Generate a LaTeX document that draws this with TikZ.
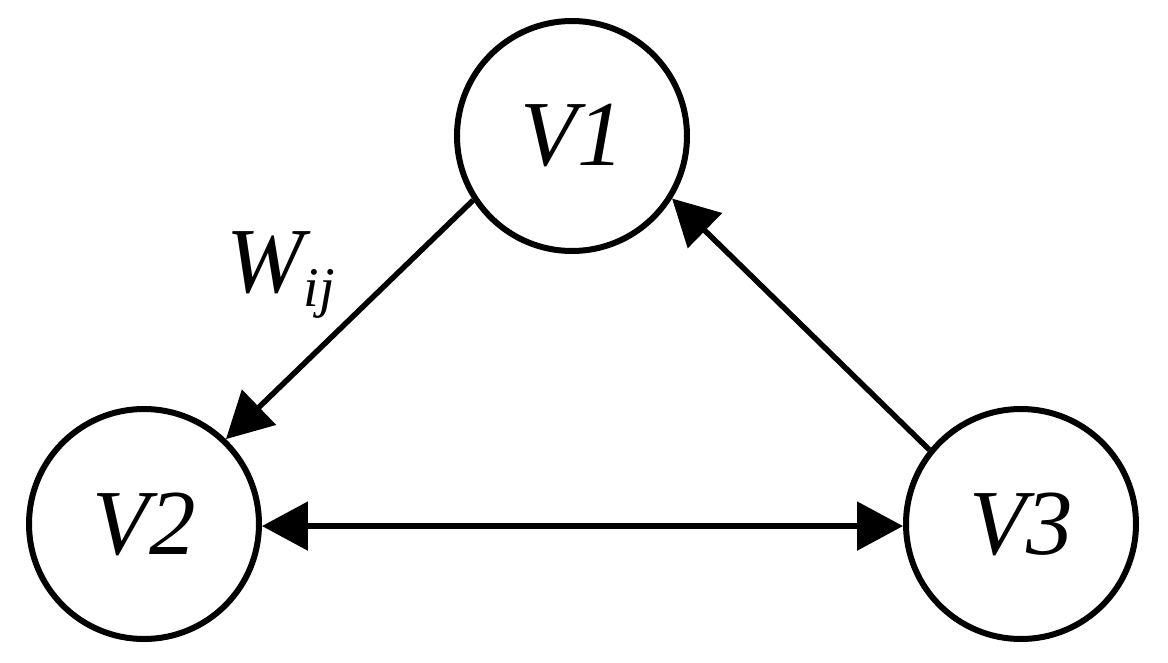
\documentclass[tikz,border=0pt]{standalone}
\usepackage{fontspec}
\setmainfont{Liberation Serif}
\usetikzlibrary{arrows.meta}
\begin{document}
\begin{tikzpicture}[x=1pt,y=-1pt,
  vert/.style={circle,draw,line width=6pt,minimum size=230pt,inner sep=0pt,
    font=\fontsize{93}{93}\selectfont\itshape},
  edge/.style={line width=5.5pt,-{Triangle[length=46pt,width=48pt]}},
  biedge/.style={line width=5.5pt,{Triangle[length=46pt,width=48pt]}-{Triangle[length=46pt,width=48pt]}}]
\useasboundingbox (0,0) rectangle (1168,662);
\node[vert] (V1) at (572,136) {V1};
\node[vert] (V2) at (144,524) {V2};
\node[vert] (V3) at (1021,524) {V3};
\draw[edge] (V1.213.7) -- (V2.46);
\draw[edge] (V3.141) -- (V1.-32.4);
\draw[biedge] (V2.-1.5) -- (V3.181.5);
\node[font=\fontsize{93}{93}\selectfont\itshape,inner sep=0pt,anchor=base west] (W) at (226,292) {W\raisebox{-14pt}{\fontsize{56}{56}\selectfont ij}};
\end{tikzpicture}
\end{document}
